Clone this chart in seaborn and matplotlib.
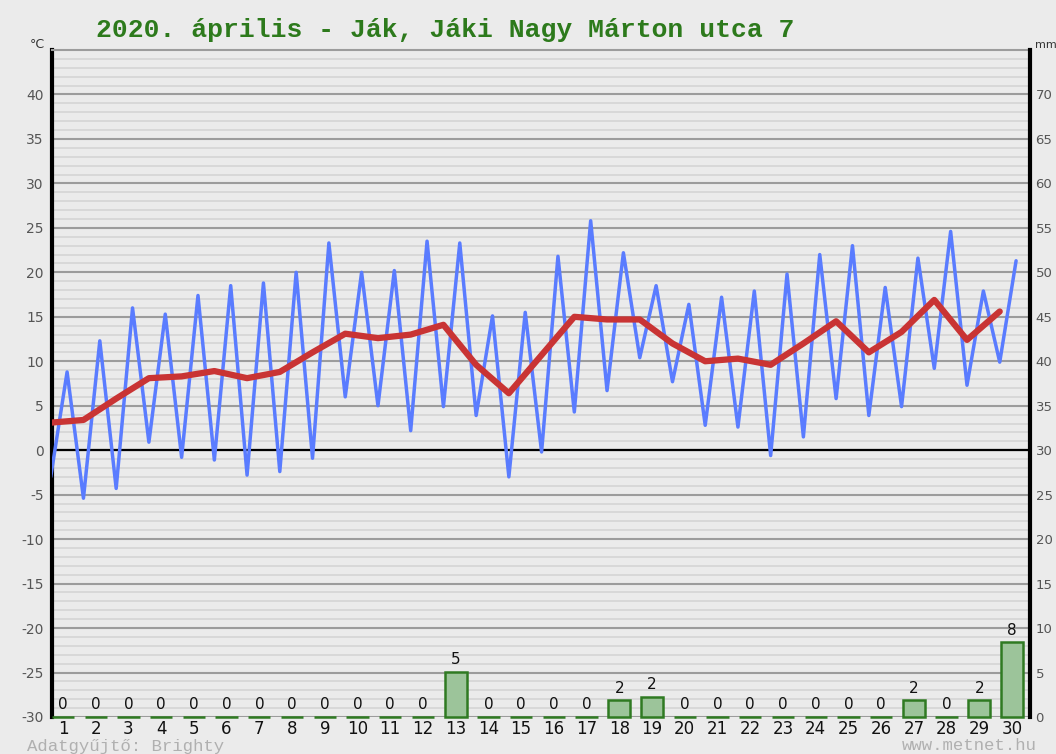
import numpy as np
import pandas as pd
import matplotlib
matplotlib.use("Agg")
import matplotlib.pyplot as plt
import seaborn as sns
from matplotlib.ticker import MultipleLocator

# ---------------- data ----------------
days = list(range(1, 31))
t_min = [-3.0, -5.4, -4.3, 0.9, -0.8, -1.1, -2.8, -2.4, -0.9, 6.0,
         5.0, 2.2, 4.9, 3.9, -3.0, -0.2, 4.3, 6.7, 10.4, 7.7,
         2.8, 2.6, -0.6, 1.5, 5.8, 3.9, 4.9, 9.2, 7.3, 9.9]
t_max = [8.8, 12.3, 16.0, 15.3, 17.4, 18.5, 18.8, 20.0, 23.3, 20.0,
         20.2, 23.5, 23.3, 15.1, 15.5, 21.8, 25.8, 22.2, 18.5, 16.4,
         17.2, 17.9, 19.8, 22.0, 23.0, 18.3, 21.6, 24.6, 17.9, 21.3]
t_mean = [3.1, 3.4, 5.8, 8.1, 8.3, 8.9, 8.1, 8.8, 11.0, 13.1,
          12.6, 13.0, 14.1, 9.6, 6.4, 10.7, 15.0, 14.7, 14.7, 12.0,
          10.0, 10.3, 9.6, 12.0, 14.5, 11.0, 13.3, 16.9, 12.4, 15.6]
precip = [0, 0, 0, 0, 0, 0, 0, 0, 0, 0,
          0, 0, 5.1, 0, 0, 0, 0, 1.9, 2.3, 0,
          0, 0, 0, 0, 0, 0, 1.9, 0, 1.9, 8.4]
title = "2020. április - Ják, Jáki Nagy Márton utca 7"
left_ticks = list(range(-30, 41, 5))
right_ticks = list(range(0, 71, 5))

# ---------------- style ----------------
sns.set_theme(style="white")
plt.rcParams["font.family"] = ["DejaVu Sans"]
plt.rcParams["axes.unicode_minus"] = False

BG = "#ebebeb"
fig = plt.figure(figsize=(10.56, 7.54), dpi=100, facecolor=BG)
ax = fig.add_axes([52 / 1056, 37 / 754, 978 / 1056, 667 / 754])
ax.set_facecolor(BG)

MIN_OFF, MAX_OFF = -0.375, 0.125
d = np.array(days, dtype=float)
blue = pd.DataFrame({"x": np.concatenate([d + MIN_OFF, d + MAX_OFF]),
                     "t": np.array(t_min + t_max)}).sort_values("x")
red = pd.DataFrame({"x": d + MIN_OFF, "t": t_mean})

ax.set_ylim(-30, 45)
ax.set_yticks(left_ticks)
ax.yaxis.set_minor_locator(MultipleLocator(1))
ax.grid(which="minor", axis="y", color="#d8d8d8", lw=1.4, zorder=0)
ax.grid(which="major", axis="y", color="#9c9c9c", lw=1.5, zorder=0)
ax.grid(which="major", axis="x", visible=False)
ax.axhline(0, color="black", lw=1.6, zorder=1)

sns.lineplot(data=blue, x="x", y="t", ax=ax, color="#5a7cff", lw=2.5,
             sort=False, zorder=3)
sns.lineplot(data=red, x="x", y="t", ax=ax, color="#c93434", lw=4.5,
             sort=False, zorder=4)

ax2 = ax.twinx()
sns.barplot(x=days, y=precip, ax=ax2, native_scale=True, width=0.68,
            color="#9cc49a", saturation=1, edgecolor="#2f7a22", linewidth=1.8)
for p in ax2.patches:
    p.set_clip_on(False)
for day, p in zip(days, precip):
    ax2.text(day, p + 1.35, f"{p:.0f}", ha="center", va="center",
             fontsize=11, color="#111111")
ax2.set_ylim(0, 75)
ax2.set_yticks(right_ticks)
ax2.set_ylabel("")
ax2.grid(False)

ax.set_xlim(0.664, 30.55)
ax.set_xticks(days)
ax.set_xticklabels([str(v) for v in days])
ax.set_xlabel("")
ax.set_ylabel("")
ax.tick_params(axis="x", length=0, pad=2, labelsize=12, labelcolor="#111111")
ax.tick_params(axis="y", which="both", length=0, pad=6, labelsize=10,
               labelcolor="#555555")
ax2.tick_params(axis="y", length=0, pad=4, labelsize=9.5, labelcolor="#555555")

for a in (ax, ax2):
    for s in a.spines.values():
        s.set_visible(False)
ax.spines["left"].set_visible(True)
ax.spines["left"].set_color("black")
ax.spines["left"].set_linewidth(3)
ax2.spines["right"].set_visible(True)
ax2.spines["right"].set_color("black")
ax2.spines["right"].set_linewidth(3)
ax.spines["top"].set_visible(True)
ax.spines["top"].set_color("#9c9c9c")
ax.spines["top"].set_linewidth(1.5)

fig.text(445 / 1056, 1 - 30 / 754, title, family="Liberation Mono",
         weight="bold", size=19, color="#2d7a1c", ha="center", va="center")
fig.text(30 / 1056, 1 - 45 / 754, "°C", size=9, color="#333333",
         ha="left", va="center")
fig.text(1035 / 1056, 1 - 45 / 754, "mm", size=8, color="#333333",
         ha="left", va="center")
fig.text(27 / 1056, 1 - 746 / 754, "Adatgyűjtő: Brighty",
         family="Liberation Mono", size=12.5, color="#b0b0b0",
         ha="left", va="center")
fig.text(1037 / 1056, 1 - 746 / 754, "www.metnet.hu",
         family="Liberation Mono", size=12.5, color="#b0b0b0",
         ha="right", va="center")

fig.savefig("out.png", dpi=100, facecolor=BG)
